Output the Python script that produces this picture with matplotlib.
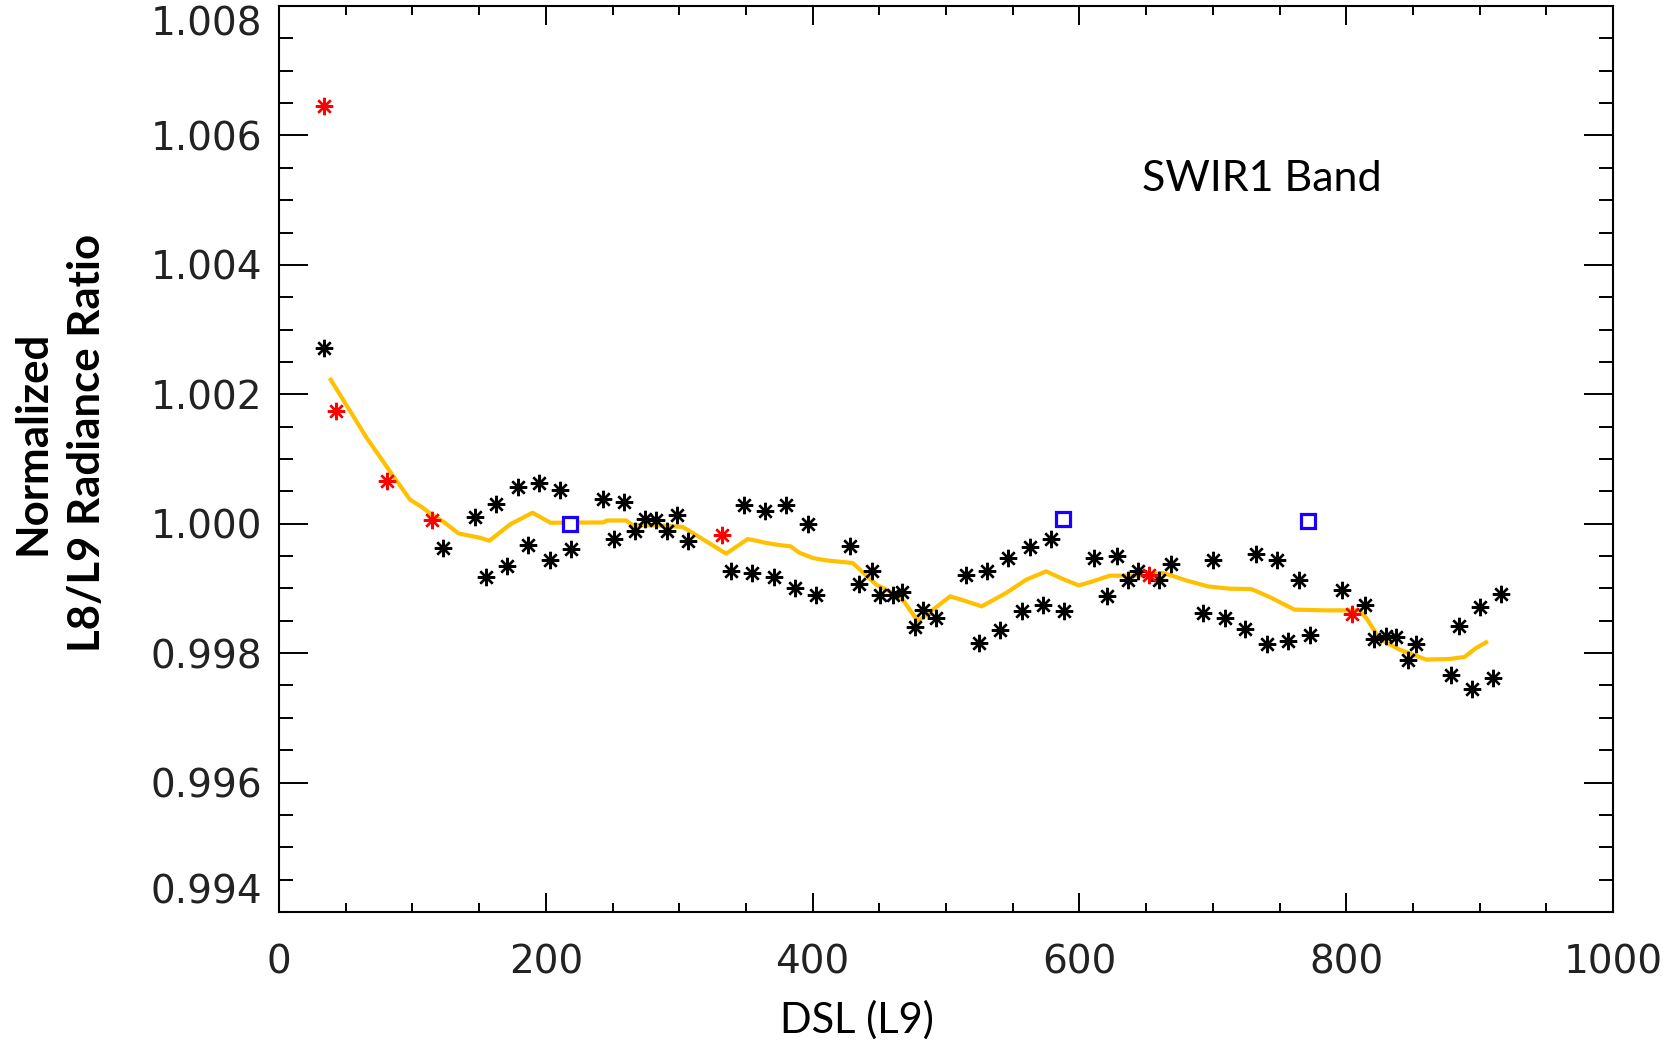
import matplotlib
matplotlib.use("Agg")
import matplotlib.pyplot as plt
from matplotlib.ticker import MultipleLocator, FormatStrFormatter

# ---- data ----
black_x = [33.4, 122.8, 147.1, 154.8, 162.8, 170.8, 178.8, 186.8, 194.8, 202.8,
           210.8, 218.8, 242.7, 250.8, 258.8, 266.7, 274.7, 282.7, 290.7, 298.7,
           306.7, 339.0, 348.4, 354.7, 364.5, 370.7, 380.2, 386.5, 396.7, 402.9,
           428.4, 434.6, 444.7, 450.8, 460.1, 466.9, 476.4, 482.6, 492.3, 514.8,
           524.4, 530.9, 540.3, 546.8, 556.6, 562.8, 572.6, 578.8, 588.3, 610.8,
           620.5, 628.3, 636.3, 644.3, 660.0, 668.8, 692.5, 700.5, 708.8, 724.5,
           732.5, 740.5, 748.5, 756.5, 764.5, 772.5, 796.5, 814.2, 820.5, 830.0,
           837.0, 846.2, 852.5, 878.2, 884.4, 894.2, 900.4, 910.2, 916.4]
black_y = [1.00272, 0.99963, 1.000097, 0.99917, 1.000298, 0.99934, 1.00056, 0.999665, 1.000628, 0.99944,
           1.000525, 0.999603, 1.000386, 0.99977, 1.000329, 0.99988, 1.00007, 1.00005, 0.99989, 1.000139,
           0.999737, 0.999274, 1.000293, 0.99924, 1.00019, 0.99917, 1.000293, 0.999007, 0.999995, 0.998903,
           0.99966, 0.99907, 0.999274, 0.998903, 0.998903, 0.99895, 0.998405, 0.99866, 0.998544, 0.999208,
           0.998157, 0.999274, 0.998352, 0.99947, 0.998646, 0.99964, 0.998749, 0.999768, 0.998646, 0.99947,
           0.998877, 0.999506, 0.999135, 0.999264, 0.999135, 0.999375, 0.99862, 0.999444, 0.998544, 0.998378,
           0.999532, 0.998147, 0.999444, 0.998183, 0.999135, 0.998286, 0.99897, 0.998749, 0.99822, 0.99826,
           0.99825, 0.997889, 0.998147, 0.997657, 0.998414, 0.997452, 0.998713, 0.997617, 0.998914]

red_x = [33.4, 42.9, 81.1, 114.6, 332.2, 652.0, 804.5]
red_y = [1.006456, 1.001745, 1.000653, 1.000062, 0.99983, 0.999202, 0.99861]

blue_x = [217.8, 587.6, 771.7]
blue_y = [1.0000, 1.000077, 1.000046]

line_x = [38.8, 65.8, 85.8, 98.3, 107.0, 114.6, 124.6, 134.6, 144.0, 149.6,
          157.7, 173.5, 190.0, 203.5, 243.0, 246.0, 260.0, 265.0, 287.5, 302.7,
          310.2, 335.2, 351.4, 360.2, 365.2, 375.2, 383.5, 390.2, 400.2, 410.2,
          430.1, 447.7, 460.1, 467.6, 478.9, 503.1, 511.4, 526.8, 545.1, 560.1,
          575.1, 587.6, 599.5, 610.0, 622.6, 647.5, 662.5, 671.0, 680.0, 696.3,
          712.6, 728.8, 742.5, 761.3, 785.0, 810.0, 815.0, 825.0, 840.0, 860.0,
          877.5, 888.7, 897.4, 904.9]
line_y = [1.002224, 1.001324, 1.000731, 1.00037, 1.000258, 1.000139, 1.00001, 0.99985, 0.99981, 0.999789,
          0.999737, 0.999993, 1.00017, 1.000015, 1.00002, 1.00005, 1.00005, 0.99998, 0.99997, 0.99995,
          0.999856, 0.999537, 0.999764, 0.999727, 0.999702, 0.99967, 0.99965, 0.99955, 0.99947, 0.999433,
          0.999393, 0.999058, 0.99893, 0.998826, 0.998491, 0.998877, 0.998826, 0.998723, 0.99893, 0.999135,
          0.999264, 0.999146, 0.999047, 0.999109, 0.999197, 0.999197, 0.999239, 0.999186, 0.999124, 0.999032,
          0.998996, 0.998991, 0.998868, 0.998672, 0.998661, 0.998661, 0.998544, 0.99822, 0.998054, 0.9979,
          0.99791, 0.997941, 0.99808, 0.998167]

x_ticks = [0, 200, 400, 600, 800, 1000]
y_ticks = [0.994, 0.996, 0.998, 1.000, 1.002, 1.004, 1.006, 1.008]

# ---- figure ----
fig = plt.figure(figsize=(16.75, 10.42), dpi=100)
ax = fig.add_axes([279 / 1675, 1 - 912 / 1042, (1613 - 279) / 1675, (912 - 6) / 1042])

ax.plot(line_x, line_y, color="#FFC000", lw=3.0, zorder=2)
star = (8, 2, 0)
ax.plot(black_x, black_y, ls="none", marker=star, ms=12.5, mew=1.7, color="black", zorder=3)
ax.plot(red_x, red_y, ls="none", marker=star, ms=12.5, mew=1.7, color="#FF0000", zorder=4)
ax.plot(blue_x, blue_y, ls="none", marker="s", ms=9.5, mew=2.3, mfc="white", mec="#1A00FF", zorder=5)

ax.set_xlim(0, 1000)
ax.set_ylim(0.994, 1.008)
ax.set_xticks(x_ticks)
ax.set_yticks(y_ticks)
ax.xaxis.set_minor_locator(MultipleLocator(50))
ax.yaxis.set_minor_locator(MultipleLocator(0.0005))
ax.yaxis.set_major_formatter(FormatStrFormatter("%.3f"))

for s in ax.spines.values():
    s.set_linewidth(1.5)

ax.tick_params(which="both", direction="in", top=True, right=True, width=1.4)
ax.tick_params(axis="y", which="major", length=21, pad=12)
ax.tick_params(axis="y", which="minor", length=10)
ax.tick_params(axis="x", which="major", length=13.4, pad=23)
ax.tick_params(axis="x", which="minor", length=6.8)
for lab in ax.get_xticklabels() + ax.get_yticklabels():
    lab.set_fontfamily("DejaVu Sans")
    lab.set_fontsize(28)
    lab.set_fontweight("normal")
    lab.set_color("#222222")
ylabs = ax.get_yticklabels()
ylabs[-1].set_verticalalignment("top")
ylabs[0].set_verticalalignment("bottom")

fig.text(60 / 1675, 1 - 443 / 1042, "Normalized\nL8/L9 Radiance Ratio", rotation=90,
         ha="center", va="center", multialignment="center", fontsize=31.5,
         fontweight="bold", family="Lato", linespacing=1.45)
fig.text(857 / 1675, 1 - 1020 / 1042, "DSL (L9)", ha="center", va="center",
         fontsize=30, family="Lato")
ax.text(647.3, 1.005143, "SWIR1 Band", ha="left", va="baseline", fontsize=31, family="Lato")

fig.savefig("out.png", dpi=100, facecolor="white")
